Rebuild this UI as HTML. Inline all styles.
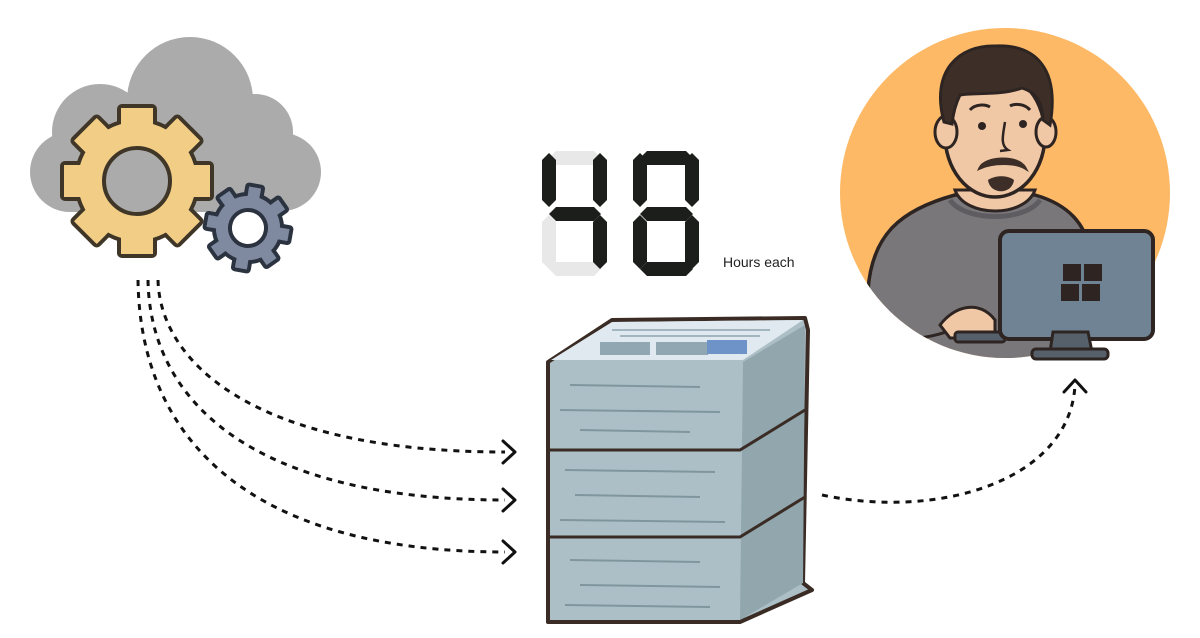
<!DOCTYPE html>
<html><head><meta charset="utf-8"><style>
html,body{margin:0;padding:0;background:#fff;width:1200px;height:638px;overflow:hidden}
svg{display:block}
</style></head><body>
<svg width="1200" height="638" viewBox="0 0 1200 638" xmlns="http://www.w3.org/2000/svg">
<g fill="#ababab">
<circle cx="190" cy="100" r="63"/>
<circle cx="100" cy="132" r="48"/>
<circle cx="70" cy="172" r="40"/>
<circle cx="255" cy="132" r="38"/>
<circle cx="282" cy="172" r="39"/>
<rect x="70" y="120" width="212" height="92"/>
</g>
<g transform="translate(137,181)">
<g fill="#f1cd86" stroke="#3f3628" stroke-width="4" stroke-linejoin="round">
<rect x="-18" y="-75" width="36" height="150" rx="3"/>
<rect x="-18" y="-75" width="36" height="150" rx="3" transform="rotate(45)"/>
<rect x="-18" y="-75" width="36" height="150" rx="3" transform="rotate(90)"/>
<rect x="-18" y="-75" width="36" height="150" rx="3" transform="rotate(135)"/>
<circle r="61"/>
</g>
<g fill="#f1cd86">
<rect x="-16" y="-73" width="32" height="146"/>
<rect x="-16" y="-73" width="32" height="146" transform="rotate(45)"/>
<rect x="-16" y="-73" width="32" height="146" transform="rotate(90)"/>
<rect x="-16" y="-73" width="32" height="146" transform="rotate(135)"/>
<circle r="59"/>
</g>
<circle r="33" fill="#ababab" stroke="#3f3628" stroke-width="4"/>
</g>
<g transform="translate(248,228) rotate(10)">
<g fill="#7f8aa0" stroke="#2b3340" stroke-width="4" stroke-linejoin="round">
<rect x="-8" y="-43" width="16" height="86" rx="2"/>
<rect x="-8" y="-43" width="16" height="86" rx="2" transform="rotate(45)"/>
<rect x="-8" y="-43" width="16" height="86" rx="2" transform="rotate(90)"/>
<rect x="-8" y="-43" width="16" height="86" rx="2" transform="rotate(135)"/>
<circle r="34"/>
</g>
<g fill="#7f8aa0">
<rect x="-6" y="-41" width="12" height="82"/>
<rect x="-6" y="-41" width="12" height="82" transform="rotate(45)"/>
<rect x="-6" y="-41" width="12" height="82" transform="rotate(90)"/>
<rect x="-6" y="-41" width="12" height="82" transform="rotate(135)"/>
<circle r="32"/>
</g>
<circle r="18" fill="#fff" stroke="#2b3340" stroke-width="4"/>
</g>
<g fill="none" stroke="#111" stroke-width="3" stroke-dasharray="6 6">
<path d="M158 280 C160 360 250 452 505 452"/>
<path d="M148 280 C150 400 250 500 505 500"/>
<path d="M138 280 C140 440 250 552 505 552"/>
<path d="M822 495 C940 520 1070 480 1075 385"/>
</g>
<g fill="none" stroke="#111" stroke-width="3" stroke-linecap="round" stroke-linejoin="round">
<path d="M503 441 L515 452 L503 463"/>
<path d="M503 489 L515 500 L503 511"/>
<path d="M503 541 L515 552 L503 563"/>
<path d="M1064 392 L1075 380 L1086 392"/>
</g>
<g fill="#e8e8e8">
<polygon points="556,151 594,151 601,158 594,165 556,165 549,158"/>
<polygon points="542,222 549,215 556,222 556,262 549,269 542,262"/>
<polygon points="556,262 594,262 601,269 594,276 556,276 549,269"/>
</g>
<g fill="#1b1e1b">
<polygon points="542,160 549,153 556,160 556,200 549,207 542,200"/>
<polygon points="593,160 600,153 607,160 607,200 600,207 593,200"/>
<polygon points="556,207 594,207 601,214 594,221 556,221 549,214"/>
<polygon points="593,222 600,215 607,222 607,262 600,269 593,262"/>
<polygon points="647,151 686,151 693,158 686,165 647,165 640,158"/>
<polygon points="633,160 640,153 647,160 647,200 640,207 633,200"/>
<polygon points="685,160 692,153 699,160 699,200 692,207 685,200"/>
<polygon points="647,207 686,207 693,214 686,221 647,221 640,214"/>
<polygon points="633,222 640,215 647,222 647,262 640,269 633,262"/>
<polygon points="685,222 692,215 699,222 699,262 692,269 685,262"/>
<polygon points="647,262 686,262 693,269 686,276 647,276 640,269"/>
</g>
<text x="723" y="267" font-family="Liberation Sans, sans-serif" font-size="14" fill="#222">Hours each</text>
<g stroke="#3a2c25" stroke-width="4" stroke-linejoin="round">
<polygon points="548,362 612,320 805,318 808,330 803,583 812,590 740,622 548,622" fill="#adbfc6"/>
</g>
<polygon points="743,362 805,325 803,583 740,620" fill="#91a6ad"/>
<polygon points="551,360 612,322 803,320 743,360" fill="#dfe9ef"/>
<rect x="600" y="342" width="50" height="13" fill="#91a8b3"/>
<rect x="656" y="342" width="52" height="13" fill="#91a8b3"/>
<rect x="707" y="340" width="40" height="14" fill="#6d93c8"/>
<g stroke="#a3b5be" stroke-width="2">
<line x1="612" y1="330" x2="770" y2="330"/><line x1="620" y1="336" x2="760" y2="336"/>
</g>
<g stroke="#3a2c25" stroke-width="3" fill="none">
<path d="M548 450 L740 450 L805 410"/>
<path d="M548 537 L740 537 L805 497"/>
</g>
<g stroke="#7f969e" stroke-width="2">
<line x1="570" y1="385" x2="700" y2="387"/><line x1="560" y1="410" x2="720" y2="412"/>
<line x1="580" y1="430" x2="690" y2="432"/><line x1="565" y1="470" x2="715" y2="472"/>
<line x1="575" y1="495" x2="700" y2="497"/><line x1="560" y1="520" x2="725" y2="522"/>
<line x1="570" y1="560" x2="700" y2="562"/><line x1="580" y1="585" x2="720" y2="587"/>
<line x1="565" y1="605" x2="710" y2="607"/>
</g>
<defs><clipPath id="c"><circle cx="1005" cy="193" r="165"/></clipPath></defs>
<circle cx="1005" cy="193" r="165" fill="#fdb966"/>
<g clip-path="url(#c)" stroke="#2e2522" stroke-width="3.5" stroke-linejoin="round">
<path d="M868 360 L868 290 C872 235 900 210 955 195 L1035 195 C1070 205 1085 225 1090 250 L1100 360 Z" fill="#7a777b"/>
<path d="M866 330 C880 345 940 340 960 325" fill="none" stroke-width="3"/>
</g>
<path d="M955 190 C965 218 1025 218 1035 190 Z" fill="#f1c8a6" stroke="#2e2522" stroke-width="3"/>
<path d="M950 200 C965 222 1025 222 1040 200" fill="none" stroke="#5e5c60" stroke-width="5"/>
<ellipse cx="995" cy="135" rx="50" ry="62" fill="#f1c8a6" stroke="#2e2522" stroke-width="3.5"/>
<ellipse cx="946" cy="132" rx="11" ry="16" fill="#f1c8a6" stroke="#2e2522" stroke-width="3"/>
<ellipse cx="1046" cy="132" rx="10" ry="15" fill="#f1c8a6" stroke="#2e2522" stroke-width="3"/>
<path d="M944 122 C930 70 960 45 995 46 C1035 44 1060 68 1050 125 L1043 120 C1042 100 1035 92 1022 88 C1000 96 975 92 960 95 C955 105 953 115 952 124 Z" fill="#3d2f28" stroke="#2e2522" stroke-width="3"/>
<path d="M970 110 C975 104 985 104 990 107 M1010 106 C1015 103 1025 104 1030 110" fill="none" stroke="#2e2522" stroke-width="3"/>
<circle cx="982" cy="126" r="4" fill="#2e2522"/><circle cx="1023" cy="124" r="4" fill="#2e2522"/>
<path d="M1005 122 C1003 135 1000 145 1008 150 L1000 151" fill="none" stroke="#2e2522" stroke-width="2.5"/>
<path d="M980 168 C985 157 1018 155 1025 168 C1015 162 993 162 980 168 Z" fill="#3d2f28" stroke="#3d2f28" stroke-width="3"/>
<path d="M988 180 C995 175 1008 175 1014 180 C1012 195 990 195 988 180 Z" fill="#3d2f28"/>
<path d="M940 325 C955 305 980 300 995 320 L995 338 L950 338 Z" fill="#f1c8a6" stroke="#2e2522" stroke-width="3"/>
<rect x="955" y="332" width="50" height="10" rx="3" fill="#56606b" stroke="#2e2522" stroke-width="3"/>
<rect x="1000" y="231" width="153" height="108" rx="9" fill="#6f8394" stroke="#2e2522" stroke-width="4"/>
<polygon points="1053,332 1088,332 1092,352 1050,352" fill="#56606b" stroke="#2e2522" stroke-width="3"/>
<rect x="1032" y="349" width="76" height="10" rx="4" fill="#56606b" stroke="#2e2522" stroke-width="3"/>
<g fill="#2e2522"><rect x="1063" y="264" width="18" height="17"/><rect x="1084" y="264" width="18" height="17"/><rect x="1061" y="284" width="18" height="17"/><rect x="1082" y="284" width="18" height="17"/></g>
</svg>
</body></html>
